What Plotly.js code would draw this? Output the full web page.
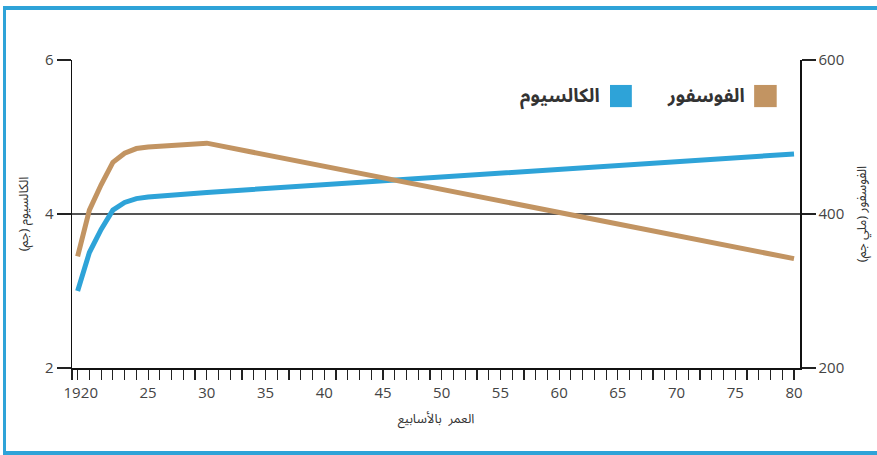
<!DOCTYPE html>
<html>
<head>
<meta charset="utf-8">
<script src="https://cdn.plot.ly/plotly-3.0.1.min.js"></script>
<style>
  html, body { margin: 0; padding: 0; background: #ffffff; }
  #wrap { position: relative; width: 877px; height: 455px; overflow: hidden; background: #fff; }
  #chart { position: absolute; left: 0; top: 0; width: 877px; height: 455px; }
  .bar { position: absolute; background: #2ea3d8; }
</style>
</head>
<body>
<div id="wrap">
  <div class="bar" style="left:3px; top:6px; width:874px; height:4px;"></div>
  <div class="bar" style="left:3px; top:6px; width:3px; height:449px;"></div>
  <div class="bar" style="left:3px; top:451px; width:874px; height:4px;"></div>
  <div id="chart"></div>
</div>
<script>
// Data
const weeks = [19, 20, 21, 22, 23, 24, 25, 30, 80];
const calcium = [3.0, 3.5, 3.8, 4.05, 4.15, 4.2, 4.22, 4.28, 4.78];      // grams (left axis)
const phosphorus = [345, 405, 438, 467, 479, 485, 487, 492, 342];       // milligrams (right axis)

const seriesNames = ['الكالسيوم', 'الفوسفور'];
const seriesColors = ['#2ea3d8', '#c29462'];

const xTickVals = [18.52, 20, 25, 30, 35, 40, 45, 50, 55, 60, 65, 70, 75, 80];
const xTickText = ['19', '20', '25', '30', '35', '40', '45', '50', '55', '60', '65', '70', '75', '80'];
const yLeftTicks = [2, 4, 6];
const yRightTicks = [200, 400, 600];

const xTitle = 'العمر  بالأسابيع';
const yLeftTitle = 'الكالسيوم (جم)';
const yRightTitle = 'الفوسفور (ملي جم)';

const arabicFont = 'Noto Sans Arabic, DejaVu Sans, sans-serif';
const tickFont = { family: 'Open Sans, Noto Sans, sans-serif', size: 15, color: '#444' };

const traces = [
  { x: weeks, y: calcium, name: seriesNames[0], type: 'scatter', mode: 'lines',
    line: { color: seriesColors[0], width: 5 }, yaxis: 'y', hoverinfo: 'skip' },
  { x: weeks, y: phosphorus, name: seriesNames[1], type: 'scatter', mode: 'lines',
    line: { color: seriesColors[1], width: 5 }, yaxis: 'y2', hoverinfo: 'skip' }
];

const legendShapes = [
  { type: 'rect', xref: 'paper', yref: 'paper', x0: 0.937, x1: 0.968, y0: 0.847, y1: 0.919,
    fillcolor: seriesColors[1], line: { width: 0 } },
  { type: 'rect', xref: 'paper', yref: 'paper', x0: 0.739, x1: 0.769, y0: 0.847, y1: 0.919,
    fillcolor: seriesColors[0], line: { width: 0 } }
];
const legendAnn = [
  { xref: 'paper', yref: 'paper', x: 0.927, y: 0.883, xanchor: 'right', yanchor: 'middle',
    text: '<b>' + seriesNames[1] + '</b>', showarrow: false,
    font: { family: arabicFont, size: 19, color: '#333' } },
  { xref: 'paper', yref: 'paper', x: 0.728, y: 0.883, xanchor: 'right', yanchor: 'middle',
    text: '<b>' + seriesNames[0] + '</b>', showarrow: false,
    font: { family: arabicFont, size: 19, color: '#333' } }
];

const layout = {
  width: 877, height: 455,
  margin: { l: 72, r: 77, t: 60, b: 87 },
  paper_bgcolor: 'rgba(0,0,0,0)',
  plot_bgcolor: 'rgba(0,0,0,0)',
  showlegend: false,
  xaxis: {
    range: [18.52, 80.51],
    tickvals: xTickVals, ticktext: xTickText, tickangle: 0,
    ticks: 'outside', ticklen: 10, tickwidth: 1.2, tickcolor: '#222',
    minor: { tick0: 19, dtick: 1, ticks: 'outside', ticklen: 10, tickwidth: 1.2, tickcolor: '#222', showgrid: false },
    showline: true, linecolor: '#111', linewidth: 1.5, mirror: false,
    showgrid: false, zeroline: false,
    tickfont: tickFont,
    title: { text: xTitle, font: { family: arabicFont, size: 13, color: '#333' }, standoff: 13 }
  },
  yaxis: {
    range: [2, 6], tickvals: yLeftTicks,
    ticks: 'outside', ticklen: 14, tickwidth: 1.5, tickcolor: '#222',
    showline: true, linecolor: '#111', linewidth: 1.5,
    showgrid: true, gridcolor: '#555', gridwidth: 1.5, zeroline: false,
    tickfont: tickFont,
    title: { text: yLeftTitle, font: { family: arabicFont, size: 13, color: '#333' }, standoff: 13 }
  },
  yaxis2: {
    range: [200, 600], tickvals: yRightTicks,
    overlaying: 'y', side: 'right',
    ticks: 'outside', ticklen: 14, tickwidth: 1.5, tickcolor: '#222',
    showline: true, linecolor: '#111', linewidth: 1.5,
    showgrid: false, zeroline: false,
    tickfont: tickFont,
    title: { text: yRightTitle, font: { family: arabicFont, size: 13, color: '#333' }, standoff: 13 }
  },
  shapes: legendShapes,
  annotations: legendAnn
};

Plotly.newPlot('chart', traces, layout, { staticPlot: true, displayModeBar: false });
</script>
</body>
</html>
